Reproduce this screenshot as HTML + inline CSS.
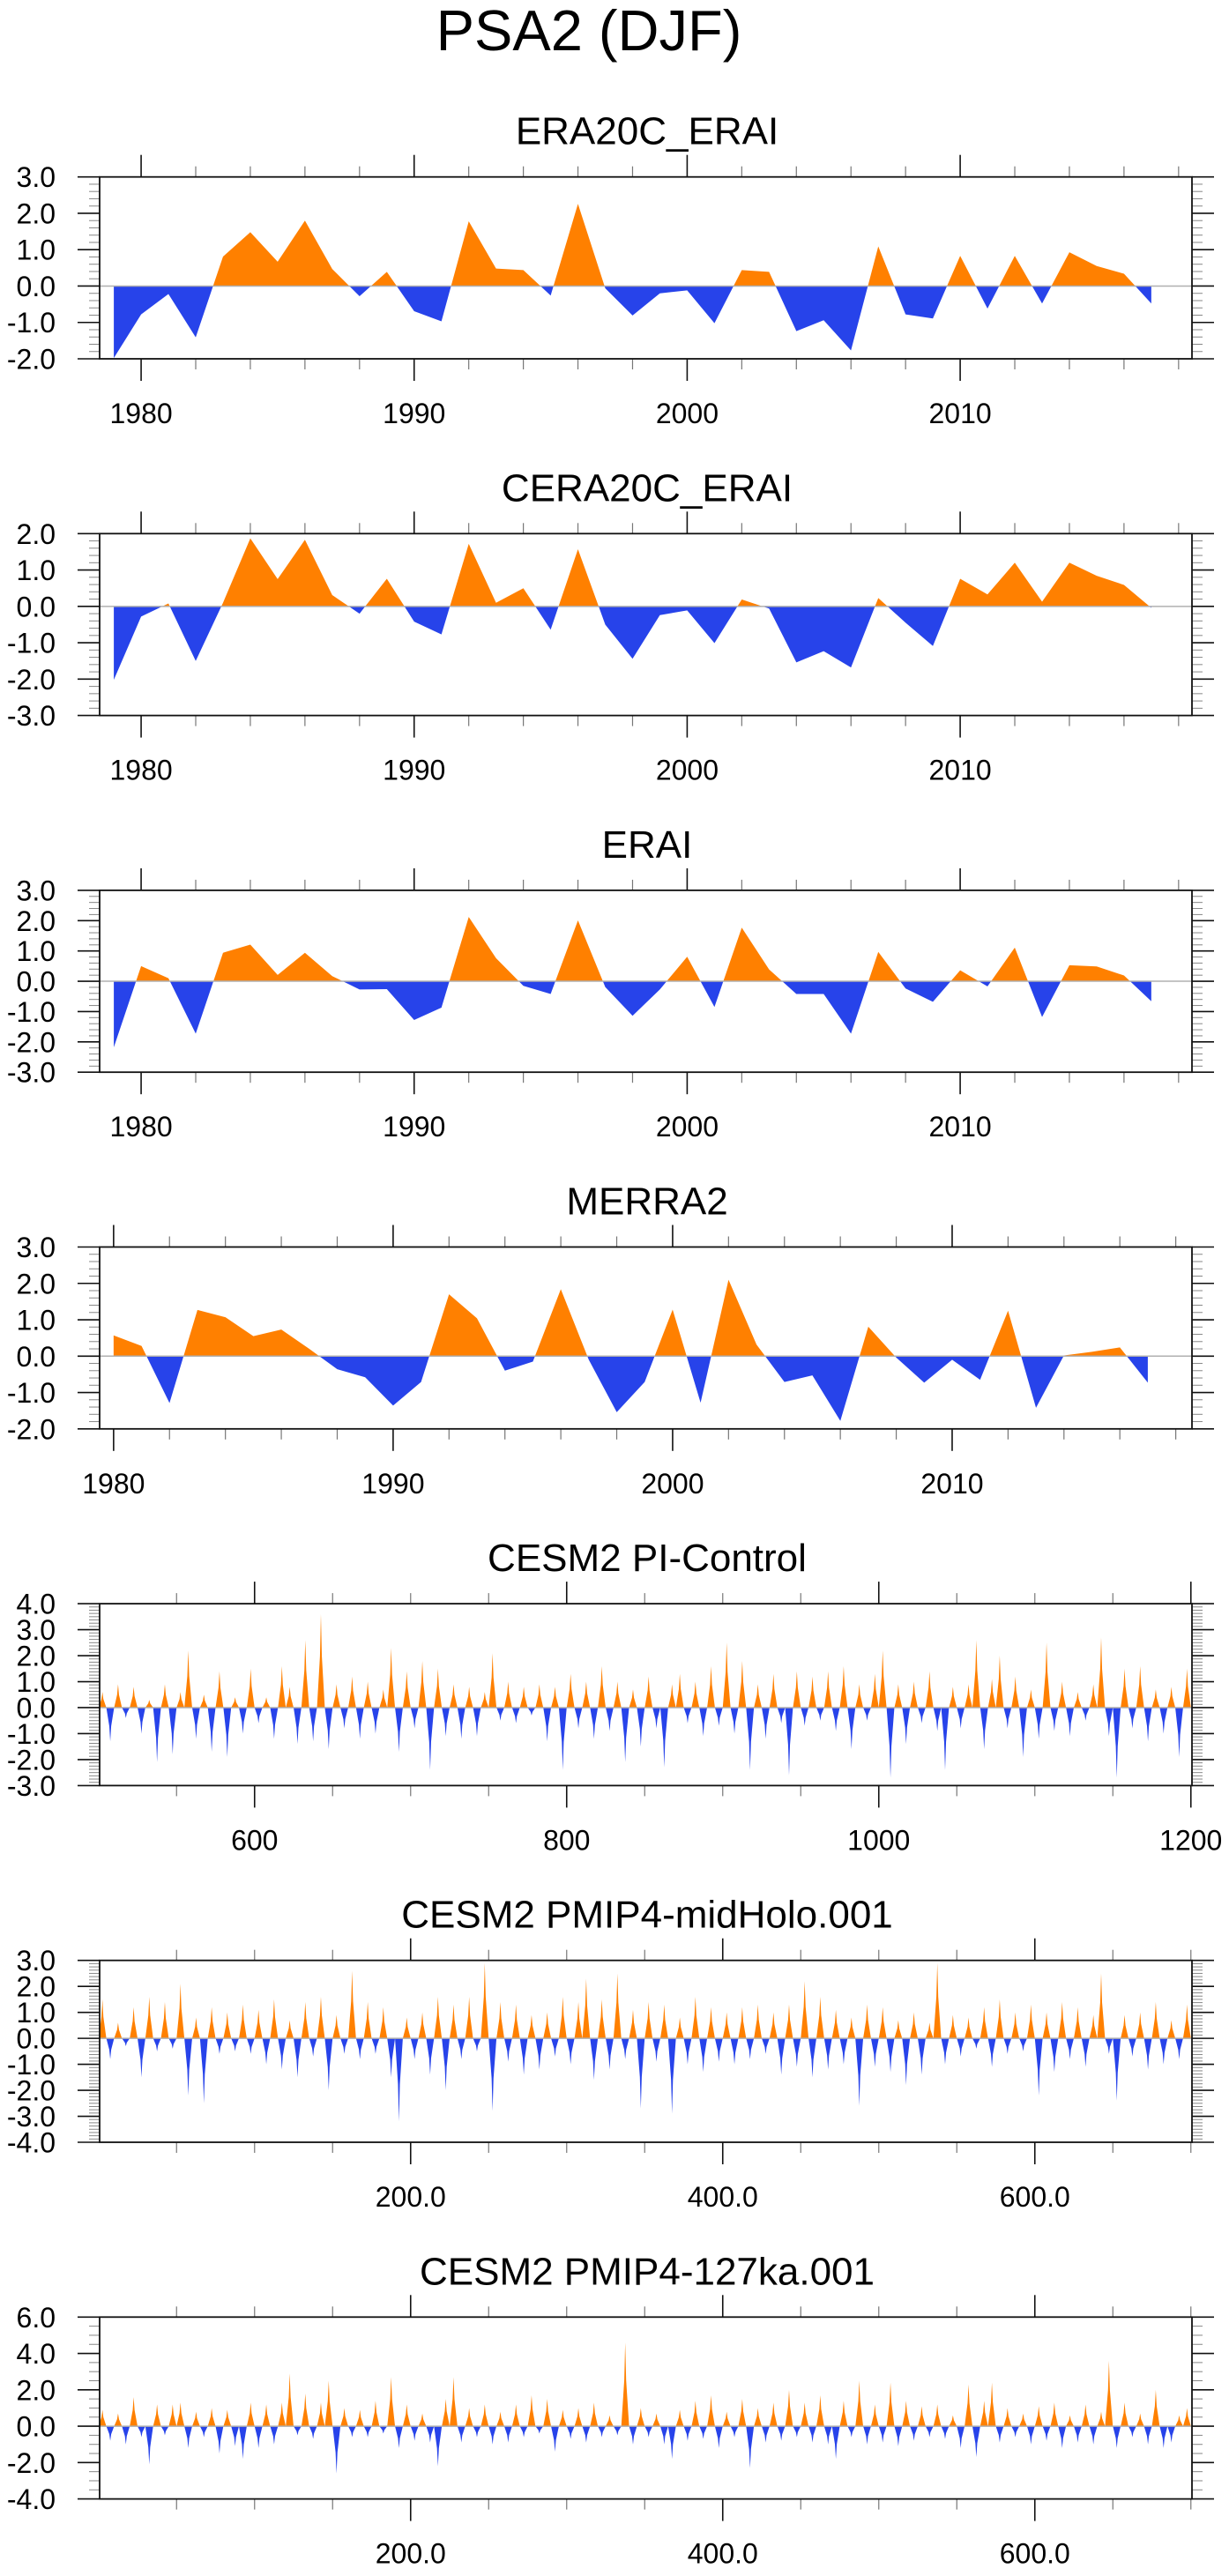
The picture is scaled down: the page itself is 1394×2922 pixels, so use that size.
<!DOCTYPE html>
<html>
<head>
<meta charset="utf-8">
<style>
  html, body { margin:0; padding:0; background:#fff; }
  body { width:1394px; height:2917px; overflow:hidden; }
  svg text { font-family: "Liberation Sans", "DejaVu Sans", sans-serif; fill:#000; }
</style>
</head>
<body>
<svg id="chart" xmlns="http://www.w3.org/2000/svg" width="1394" height="2917" viewBox="0 0 1394 2917">
  <rect x="0" y="0" width="1394" height="2917" fill="#fff"/>
  <text x="668" y="57" font-size="65" text-anchor="middle">PSA2 (DJF)</text>
  <g id="panels"></g>
</svg>
<script>
// ---------- data ----------
const yearsA = [];
for (let y = 1979; y <= 2017; y++) yearsA.push(y);
const yearsM = [];
for (let y = 1980; y <= 2017; y++) yearsM.push(y);

const era20cValues = [-1.98,-0.78,-0.22,-1.41,0.81,1.48,0.67,1.80,0.47,-0.28,0.39,-0.69,-0.97,1.78,0.48,0.44,-0.26,2.26,-0.06,-0.81,-0.20,-0.12,-1.02,0.44,0.39,-1.24,-0.94,-1.77,1.09,-0.78,-0.89,0.83,-0.62,0.83,-0.48,0.93,0.55,0.34,-0.48];
const cera20cValues = [-2.02,-0.28,0.08,-1.50,0.10,1.87,0.75,1.83,0.31,-0.20,0.76,-0.42,-0.77,1.72,0.10,0.50,-0.64,1.57,-0.50,-1.44,-0.24,-0.11,-1.01,0.19,-0.06,-1.54,-1.23,-1.68,0.23,-0.45,-1.09,0.76,0.33,1.20,0.13,1.20,0.84,0.59,-0.04];
const eraiValues = [-2.18,0.50,0.10,-1.73,0.94,1.21,0.21,0.94,0.17,-0.27,-0.26,-1.28,-0.87,2.12,0.76,-0.15,-0.42,2.01,-0.19,-1.14,-0.27,0.81,-0.85,1.77,0.39,-0.42,-0.42,-1.73,0.97,-0.24,-0.68,0.36,-0.17,1.11,-1.18,0.53,0.49,0.19,-0.66];
const merra2Values = [0.57,0.28,-1.29,1.27,1.07,0.55,0.73,0.20,-0.36,-0.58,-1.36,-0.71,1.70,1.04,-0.40,-0.15,1.84,-0.10,-1.54,-0.71,1.28,-1.28,2.10,0.32,-0.71,-0.53,-1.78,0.81,-0.04,-0.73,-0.10,-0.65,1.25,-1.42,0.02,0.12,0.24,-0.73];

const piControlValues = [0.6,-1.3,0.9,-0.4,0.8,-1.0,0.3,-2.1,0.9,-1.8,
 0.6,2.2,-1.2,0.5,-1.7,1.4,-1.9,0.4,-1.0,1.5,
 -0.6,0.4,-1.2,1.6,0.8,-1.4,2.6,-1.3,3.6,-1.6,
 0.9,-0.8,1.2,-1.2,1.0,-1.0,0.7,2.3,-1.7,1.4,
 -0.8,1.8,-2.4,1.5,-1.1,0.9,-1.2,0.8,-1.1,0.6,
 2.1,-0.5,1.0,-0.6,0.8,-0.3,0.9,-1.3,0.8,-2.4,
 1.3,-0.8,1.0,-1.2,1.6,-0.9,1.0,-2.1,0.7,-1.5,
 1.2,-0.8,-2.3,0.9,1.3,-0.6,1.0,-1.1,1.6,-0.7,
 2.5,-1.0,1.8,-2.4,0.9,-1.2,1.3,-0.6,-2.6,1.4,
 -0.7,1.2,-0.5,1.4,-0.9,1.6,-1.6,0.9,-0.5,1.3,
 2.2,-2.7,0.9,-1.4,1.0,-0.6,1.4,-0.9,-2.4,0.8,
 -0.8,0.9,2.6,-1.6,1.1,2.0,-0.8,1.2,-1.9,0.7,
 -1.2,2.5,-0.9,1.0,-1.1,0.6,-0.5,0.9,2.7,-1.1,
 -2.7,1.5,-0.8,1.6,-1.3,0.7,-1.0,0.8,-1.9,1.5];
const midHoloValues = [1.5,-0.8,0.6,-0.3,1.2,-1.5,1.6,-0.5,1.4,-0.4,
 2.1,-2.2,0.8,-2.5,1.2,-0.6,1.0,-0.5,1.3,-0.6,
 1.1,-1.0,1.5,-1.2,0.7,-1.5,1.4,-0.7,1.6,-2.0,
 0.9,-0.6,2.6,-0.8,1.4,-0.6,1.2,-1.5,-3.2,0.8,
 -0.8,1.0,-1.4,1.6,-2.0,1.3,-0.8,1.6,-0.5,2.9,
 -2.8,1.4,-0.9,1.3,-1.4,0.9,-1.2,1.0,-0.7,1.6,
 -1.0,1.4,2.3,-1.6,1.5,-1.2,2.5,-0.8,1.1,-2.7,
 1.4,-0.9,1.3,-2.9,0.8,-1.0,1.6,-1.3,1.2,-0.9,
 1.0,-1.0,1.2,-0.8,1.3,-0.6,1.0,-1.4,1.3,-1.1,
 2.2,-1.5,1.6,-1.2,1.1,-1.0,0.8,-2.6,1.3,-1.1,
 1.2,-1.3,0.7,-1.8,1.0,-1.4,0.6,2.9,-1.0,0.9,
 -0.7,0.8,-0.4,1.2,-1.1,1.5,-0.6,1.0,-0.5,1.3,
 -2.2,1.0,-1.3,1.4,-0.8,1.2,-1.1,0.9,2.5,-0.6,
 -2.4,0.9,-0.7,1.0,-1.2,1.4,-1.0,0.7,-0.8,1.3];
const ka127Values = [0.9,-0.8,0.7,-1.0,1.6,-0.6,-2.1,1.2,-0.5,1.2,
 1.3,-1.2,0.8,-0.6,1.0,-1.5,0.9,-1.1,-1.8,1.3,
 -1.2,1.2,-1.0,1.3,2.9,-0.5,1.8,-0.7,1.3,2.5,
 -2.6,1.0,-0.6,0.9,-0.6,1.4,-0.4,2.7,-1.2,1.2,
 -0.8,0.7,-0.9,-2.2,1.5,2.7,-0.9,1.0,-0.6,1.2,
 -1.0,0.8,-0.9,1.2,-0.6,1.7,-0.4,1.5,-1.4,0.9,
 -0.7,1.0,-0.9,1.3,-0.6,0.6,-0.5,4.6,-1.0,1.0,
 -0.6,0.7,-1.0,-1.8,0.9,-0.8,1.4,-0.7,1.7,-1.2,
 0.8,-0.6,1.5,-2.3,1.0,-0.9,1.3,-0.8,2.0,-0.6,
 1.3,-0.9,1.7,-1.0,-1.8,1.4,-0.6,2.5,-1.0,1.2,
 -0.9,2.4,-1.1,1.4,-0.8,1.1,-0.6,1.2,-0.7,0.6,
 -1.2,2.3,-1.7,1.4,2.4,-0.9,1.0,-0.6,0.7,-1.0,
 1.1,-0.8,1.3,-1.2,0.6,-0.9,1.2,-1.0,0.8,3.6,
 -1.2,1.3,-0.6,0.7,-1.0,2.0,-1.2,-0.9,0.6,1.0];

const titles = ["ERA20C_ERAI","CERA20C_ERAI","ERAI","MERRA2","CESM2 PI-Control","CESM2 PMIP4-midHolo.001","CESM2 PMIP4-127ka.001"];
const xTickLabelsYears = ["1980","1990","2000","2010"];
const xTickLabelsPI = ["600","800","1000","1200"];
const xTickLabelsPMIP = ["200.0","400.0","600.0"];

// ---------- layout ----------
const NS = "http://www.w3.org/2000/svg";
const L = 113, R = 1352, H = 206.3;
const ORANGE = "#ff8000", BLUE = "#2743ea";
const root = document.getElementById("panels");

function mk(tag, attrs, parent) {
  const e = document.createElementNS(NS, tag);
  for (const k in attrs) e.setAttribute(k, attrs[k]);
  parent.appendChild(e);
  return e;
}

const panels = [
  {x: yearsA, v: era20cValues, xd:[1978.48,2018.49], yd:[-2,3], ymaj:1, ymin:0.2, xmaj:[1980,1990,2000,2010], xlab:xTickLabelsYears, xminStep:2, xminStart:1980, xminEnd:2018, spikes:false},
  {x: yearsA, v: cera20cValues, xd:[1978.48,2018.49], yd:[-3,2], ymaj:1, ymin:0.2, xmaj:[1980,1990,2000,2010], xlab:xTickLabelsYears, xminStep:2, xminStart:1980, xminEnd:2018, spikes:false},
  {x: yearsA, v: eraiValues, xd:[1978.48,2018.49], yd:[-3,3], ymaj:1, ymin:0.2, xmaj:[1980,1990,2000,2010], xlab:xTickLabelsYears, xminStep:2, xminStart:1980, xminEnd:2018, spikes:false},
  {x: yearsM, v: merra2Values, xd:[1979.5,2018.58], yd:[-2,3], ymaj:1, ymin:0.2, xmaj:[1980,1990,2000,2010], xlab:xTickLabelsYears, xminStep:2, xminStart:1980, xminEnd:2018, spikes:false},
  {x: null, v: piControlValues, x0:500, xd:[500.7,1200.7], yd:[-3,4], ymaj:1, ymin:0.125, xmaj:[600,800,1000,1200], xlab:xTickLabelsPI, xminStep:50, xminStart:550, xminEnd:1200, spikes:true},
  {x: null, v: midHoloValues, x0:0, xd:[0.7,700.7], yd:[-4,3], ymaj:1, ymin:0.125, xmaj:[200,400,600], xlab:xTickLabelsPMIP, xminStep:50, xminStart:50, xminEnd:700, spikes:true},
  {x: null, v: ka127Values, x0:0, xd:[0.7,700.7], yd:[-4,6], ymaj:2, ymin:0.5, xmaj:[200,400,600], xlab:xTickLabelsPMIP, xminStep:50, xminStart:50, xminEnd:700, spikes:true}
];

panels.forEach((p, i) => {
  const top = 200.7 + 404.6 * i, bot = top + H;
  const sx = v => L + (v - p.xd[0]) / (p.xd[1] - p.xd[0]) * (R - L);
  const sy = v => bot - (v - p.yd[0]) / (p.yd[1] - p.yd[0]) * H;
  const g = mk("g", {}, root);
  
  

  const t = mk("text", {x: 734, y: top - 37, "font-size": 44, "text-anchor": "middle"}, g);
  t.textContent = titles[i];
  
  

  const y0 = sy(0);
  let pts = [];
  if (!p.spikes) {
    pts.push([sx(p.x[0]), y0]);
    p.x.forEach((xv, k) => pts.push([sx(xv), sy(p.v[k])]));
    pts.push([sx(p.x[p.x.length - 1]), y0]);
  } else {
    const step = 5;
    p.v.forEach((val, k) => {
      const xc = p.x0 + step * k + step / 2;
      pts.push([sx(xc - step * 0.5), y0]);
      pts.push([sx(xc - step * 0.12), sy(val * 0.55)]);
      pts.push([sx(xc), sy(val)]);
      pts.push([sx(xc + step * 0.12), sy(val * 0.55)]);
      pts.push([sx(xc + step * 0.5), y0]);
    });
  }
  const ptsStr = pts.map(q => q[0].toFixed(2) + "," + q[1].toFixed(2)).join(" ");
  const defs = mk("defs", {}, g);
  const cpU = mk("clipPath", {id: "up" + i}, defs);
  mk("rect", {x: L, y: top, width: R - L, height: y0 - top}, cpU);
  const cpD = mk("clipPath", {id: "dn" + i}, defs);
  mk("rect", {x: L, y: y0, width: R - L, height: bot - y0}, cpD);
  const pos = mk("polygon", {points: ptsStr, fill: ORANGE, "clip-path": "url(#up" + i + ")"}, g);
  
  
  const neg = mk("polygon", {points: ptsStr, fill: BLUE, "clip-path": "url(#dn" + i + ")"}, g);
  
  

  const zl = mk("line", {x1: L, x2: R, y1: y0, y2: y0, stroke: "#b0b0b0", "stroke-width": 1.5}, g);
  
  

  const nMin = Math.round((p.yd[1] - p.yd[0]) / p.ymin);
  for (let k = 0; k <= nMin; k++) {
    const v = p.yd[0] + k * p.ymin;
    const y = sy(v);
    const isMaj = Math.abs(v / p.ymaj - Math.round(v / p.ymaj)) < 1e-6;
    const len = isMaj ? 25 : 12;
    const col = isMaj ? "#111" : "#888";
    const sw = isMaj ? 1.6 : 1.0;
    mk("line", {x1: L - len, x2: L, y1: y, y2: y, stroke: col, "stroke-width": sw}, g);
    mk("line", {x1: R, x2: R + len, y1: y, y2: y, stroke: col, "stroke-width": sw}, g);
    if (isMaj) {
      const lt = mk("text", {x: 63, y: y + 11.5, "font-size": 32, "text-anchor": "end"}, g);
      lt.textContent = v.toFixed(1);
      
      
    }
  }
  for (let v = p.xminStart; v <= p.xminEnd + 1e-6; v += p.xminStep) {
    if (p.xmaj.includes(v)) continue;
    const x = sx(v);
    if (x < L - 0.5 || x > R + 0.5) continue;
    mk("line", {x1: x, x2: x, y1: top - 12, y2: top, stroke: "#777", "stroke-width": 1.2}, g);
    mk("line", {x1: x, x2: x, y1: bot, y2: bot + 12, stroke: "#777", "stroke-width": 1.2}, g);
  }
  p.xmaj.forEach((v, k) => {
    const x = sx(v);
    mk("line", {x1: x, x2: x, y1: top - 25, y2: top, stroke: "#111", "stroke-width": 1.6}, g);
    mk("line", {x1: x, x2: x, y1: bot, y2: bot + 25, stroke: "#111", "stroke-width": 1.6}, g);
    const lt = mk("text", {x: x, y: bot + 73, "font-size": 32, "text-anchor": "middle"}, g);
    lt.textContent = p.xlab[k];
    
    
  });
  const fr = mk("rect", {x: L, y: top, width: R - L, height: H, fill: "none", stroke: "#111", "stroke-width": 1.8}, g);
  
  
});
</script>
</body>
</html>
